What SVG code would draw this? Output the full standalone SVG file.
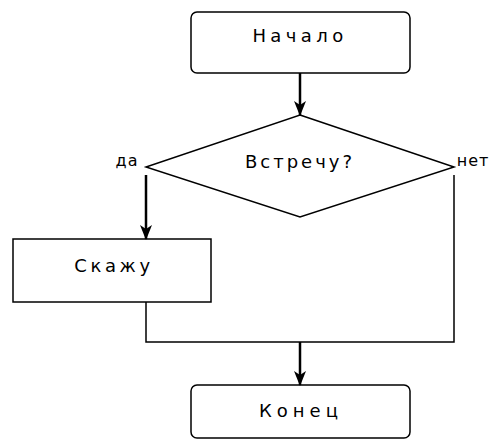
<svg xmlns="http://www.w3.org/2000/svg" width="491" height="446" viewBox="0 0 491 446">
<defs>
<style>
.shape{fill:#fff;stroke:#000;stroke-width:1.5}
.t{font-family:"DejaVu Sans","Liberation Sans",sans-serif;font-size:18px;fill:#000;text-anchor:middle;dominant-baseline:central;letter-spacing:4px}
.conn{fill:none;stroke:#000;stroke-width:1.5}
.arr{fill:none;stroke:#000;stroke-width:2.5;marker-end:url(#ah)}
</style>
<marker id="ah" markerWidth="15" markerHeight="12" refX="14" refY="6" orient="auto" markerUnits="userSpaceOnUse" viewBox="0 0 15 12">
<path d="M0,0 L15,6 L0,12 L4,6 Z" fill="#000"/>
</marker>
</defs>
<rect width="491" height="446" fill="#fff"/>
<g id="start">
<rect class="shape" x="191" y="12" width="219" height="61" rx="6"/>
<text class="t" x="300" y="35" style="letter-spacing:4.4px">Начало</text>
</g>
<g id="decision">
<polygon class="shape" points="300,115 454,167 300,217 146,167"/>
<text class="t" x="300" y="161" style="letter-spacing:3px">Встречу?</text>
</g>
<g id="say">
<rect class="shape" x="13" y="239" width="198" height="63"/>
<text class="t" x="114" y="265" style="letter-spacing:3.6px">Скажу</text>
</g>
<g id="end">
<rect class="shape" x="191" y="385" width="219" height="53" rx="6"/>
<text class="t" x="301" y="410" style="letter-spacing:5px">Конец</text>
</g>
<g id="labels">
<text class="t" x="127" y="160" style="letter-spacing:1px;font-size:16px">да</text>
<text class="t" x="473" y="160" style="letter-spacing:1px;font-size:16px">нет</text>
</g>
<g id="connectors">
<line class="arr" x1="300" y1="73" x2="300" y2="115"/>
<line class="arr" x1="146" y1="175" x2="146" y2="239"/>
<polyline class="conn" points="146,302 146,342 454,342 454,175"/>
<line class="arr" x1="300" y1="342" x2="300" y2="385"/>
</g>
</svg>
